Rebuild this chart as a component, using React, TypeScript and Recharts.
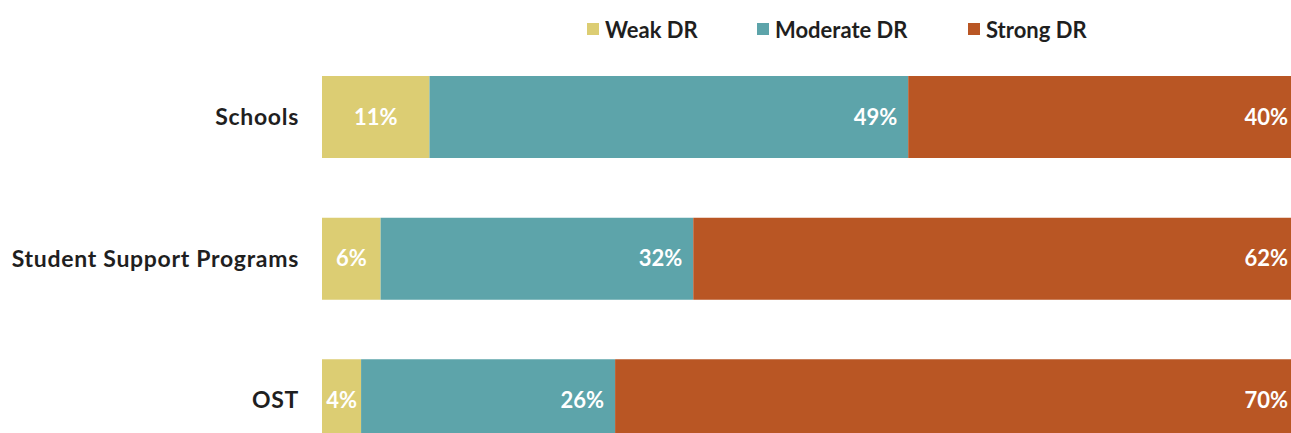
import React from 'react';
import { BarChart, Bar, XAxis, YAxis, Legend, LabelList } from 'recharts';

const categories = ['Schools', 'Student Support Programs', 'OST'];
const weakDR = [11, 6, 4];
const moderateDR = [49, 32, 26];
const strongDR = [40, 62, 70];
const seriesKeys = ['weak', 'moderate', 'strong'];
const seriesNames = ['Weak DR', 'Moderate DR', 'Strong DR'];
const seriesColors = ['#DCCD73', '#5DA4AA', '#B95624'];

const data = categories.map((c, i) => ({
  name: c,
  weak: weakDR[i],
  moderate: moderateDR[i],
  strong: strongDR[i],
}));

const FONT = 'Lato, "DejaVu Sans", sans-serif';
const legendLefts = [587, 757, 968];

const LegendContent = () => (
  <div style={{ position: 'relative', width: 1291, height: 60 }}>
    {seriesNames.map((n, i) => (
      <div
        key={n}
        style={{
          position: 'absolute',
          left: legendLefts[i],
          top: 16,
          height: 26,
          display: 'flex',
          alignItems: 'center',
          fontFamily: FONT,
          fontWeight: 700,
          fontSize: 22,
          color: '#1f1f1f',
          whiteSpace: 'nowrap',
        }}
      >
        <span style={{ display: 'inline-block', width: 12, height: 12, background: seriesColors[i], marginRight: 6 }} />
        <span>{n}</span>
      </div>
    ))}
  </div>
);

const pct = (v: any) => `${v}%`;

export default function App() {
  return (
    <div style={{ position: 'absolute', left: 0, top: 0, width: 1291, height: 433, overflow: 'hidden', background: '#fff' }}>
      <BarChart
        width={1299}
        height={471}
        data={data}
        layout="vertical"
        margin={{ top: 46, right: 0, bottom: 0, left: 0 }}
        barSize={82}
      >
        <XAxis type="number" domain={[0, 100]} hide />
        <YAxis
          type="category"
          dataKey="name"
          width={322}
          axisLine={false}
          tickLine={false}
          tickSize={0}
          tickMargin={23}
          tick={{ fill: '#1f1f1f', fontFamily: FONT, fontWeight: 700, fontSize: 23, letterSpacing: 0.7 }}
        />
        <Legend
          layout="horizontal"
          verticalAlign="middle"
          align="center"
          wrapperStyle={{ left: 0, top: 0, width: 1291, height: 60 }}
          content={LegendContent}
        />
        {seriesKeys.map((k, i) => (
          <Bar key={k} dataKey={k} name={seriesNames[i]} stackId="a" fill={seriesColors[i]} isAnimationActive={false}>
            <LabelList
              dataKey={k}
              position={i === 0 ? 'center' : 'insideRight'}
              offset={11}
              formatter={pct}
              fill="#ffffff"
              style={{ fontFamily: FONT, fontWeight: 700, fontSize: 22 }}
            />
          </Bar>
        ))}
      </BarChart>
    </div>
  );
}
